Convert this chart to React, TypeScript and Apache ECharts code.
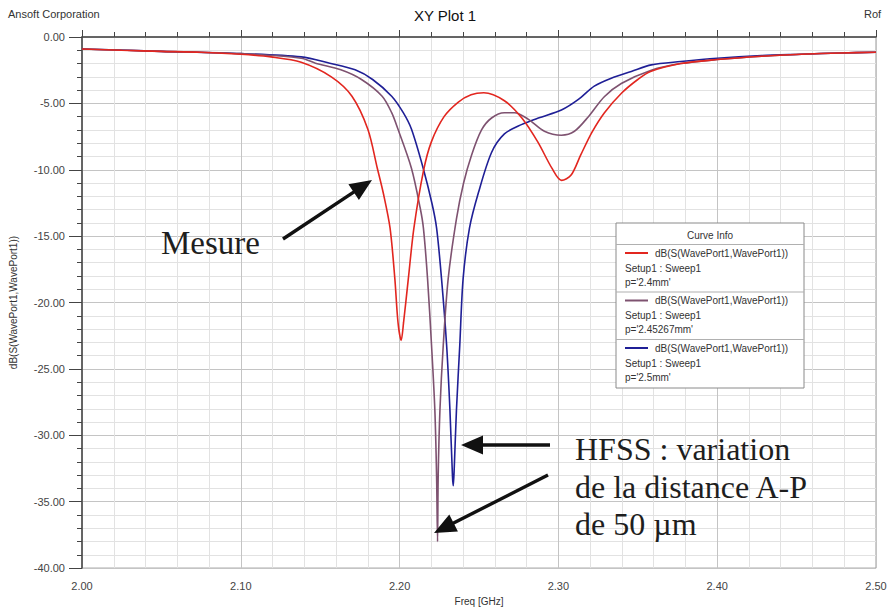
import React, { useEffect, useRef } from "react";
import * as echarts from "echarts";

// ---- data ----
const redFreq = [2.0, 2.025, 2.05, 2.075, 2.1, 2.119, 2.138, 2.157, 2.17, 2.18, 2.186, 2.19, 2.194, 2.197, 2.199, 2.201, 2.2025, 2.2055, 2.209, 2.215, 2.22, 2.228, 2.237, 2.245, 2.253, 2.266, 2.277, 2.287, 2.296, 2.302, 2.308, 2.314, 2.321, 2.329, 2.34, 2.35, 2.358, 2.377, 2.4, 2.428, 2.453, 2.478, 2.5];
const redDb = [-0.9, -1.0, -1.08, -1.15, -1.3, -1.5, -1.9, -3.0, -4.46, -6.95, -9.9, -11.9, -14.4, -18.2, -21.5, -22.85, -21.5, -18.2, -14.4, -10.1, -7.9, -6.0, -4.9, -4.35, -4.2, -4.8, -6.1, -7.9, -9.9, -10.8, -10.4, -8.9, -7.2, -5.7, -4.2, -3.2, -2.6, -2.0, -1.7, -1.45, -1.3, -1.2, -1.15];

const purpleFreq = [2.0, 2.05, 2.1, 2.138, 2.147, 2.163, 2.176, 2.189, 2.195, 2.199, 2.2075, 2.213, 2.215, 2.2176, 2.2201, 2.2222, 2.2233, 2.2239, 2.2243, 2.2254, 2.2275, 2.2306, 2.2358, 2.2403, 2.2453, 2.2516, 2.2579, 2.266, 2.2723, 2.2811, 2.2912, 2.3019, 2.3101, 2.3189, 2.3289, 2.3396, 2.3585, 2.377, 2.4, 2.428, 2.453, 2.478, 2.5];
const purpleDb = [-0.9, -1.08, -1.25, -1.6, -1.97, -2.47, -3.2, -4.46, -5.7, -6.95, -9.9, -12.9, -14.4, -18.2, -23.2, -28.1, -33.1, -38.0, -33.1, -28.1, -23.2, -18.2, -13.7, -11.0, -8.9, -7.0, -6.1, -5.7, -5.7, -6.2, -7.1, -7.4, -7.1, -6.0, -4.5, -3.5, -2.5, -2.0, -1.7, -1.45, -1.3, -1.2, -1.15];

const blueFreq = [2.0, 2.05, 2.1, 2.138, 2.156, 2.172, 2.183, 2.195, 2.2023, 2.2075, 2.2149, 2.2205, 2.2233, 2.2264, 2.2296, 2.2317, 2.2333, 2.2338, 2.2344, 2.2358, 2.2379, 2.24, 2.244, 2.2497, 2.2579, 2.266, 2.2767, 2.2874, 2.3019, 2.3126, 2.3226, 2.3333, 2.3459, 2.3585, 2.377, 2.4, 2.428, 2.453, 2.478, 2.5];
const blueDb = [-0.9, -1.08, -1.25, -1.5, -1.97, -2.47, -3.2, -4.46, -5.7, -6.95, -9.9, -12.6, -14.4, -18.2, -23.2, -28.1, -33.1, -33.8, -32.5, -28.1, -23.2, -18.2, -14.4, -11.7, -8.7, -7.3, -6.6, -6.1, -5.5, -4.7, -3.7, -3.1, -2.6, -2.1, -1.85, -1.6, -1.4, -1.3, -1.2, -1.15];

const seriesNames = ["p='2.4mm'", "p='2.45267mm'", "p='2.5mm'"];
const curveLabel = "dB(S(WavePort1,WavePort1))";
const setupLabel = "Setup1 : Sweep1";
const mesureText = "Mesure";
const hfssLines = ["HFSS : variation", "de la distance A-P", "de 50 µm"];

const COLORS = ["#e2261f", "#7e5270", "#1f1f96"];
const TOP_Z = 100;

function pairs(xs: number[], ys: number[]) {
  return xs.map((x, i) => [x, ys[i]]);
}

// arrow drawn as one filled polygon (shaft + head)
function arrow(x1: number, y1: number, x2: number, y2: number) {
  const dx = x2 - x1;
  const dy = y2 - y1;
  const len = Math.sqrt(dx * dx + dy * dy);
  const ux = dx / len;
  const uy = dy / len;
  const nx = -uy;
  const ny = ux;
  const hl = 22;
  const hw = 9.5;
  const sw = 1.7;
  const bx = x2 - ux * hl;
  const by = y2 - uy * hl;
  return {
    type: "polygon",
    z: TOP_Z,
    shape: {
      points: [
        [x1 + nx * sw, y1 + ny * sw],
        [bx + nx * sw, by + ny * sw],
        [bx + nx * hw, by + ny * hw],
        [x2, y2],
        [bx - nx * hw, by - ny * hw],
        [bx - nx * sw, by - ny * sw],
        [x1 - nx * sw, y1 - ny * sw],
      ],
    },
    style: { fill: "#111", stroke: "none" },
  };
}

const smallFont = "10px 'Liberation Sans', Arial, sans-serif";

function legendBox() {
  const L = 616;
  const T = 223;
  const W = 188;
  const H = 165;
  const children: any[] = [
    { type: "rect", z: TOP_Z, shape: { x: L, y: T, width: W, height: H }, style: { fill: "#fff", stroke: "#8a8a8a", lineWidth: 1 } },
    { type: "text", z: TOP_Z + 1, x: L + W / 2, y: T + 12, style: { text: "Curve Info", fill: "#333", font: smallFont, align: "center", verticalAlign: "middle" } },
    { type: "rect", z: TOP_Z + 1, shape: { x: L, y: T + 21, width: W, height: 1 }, style: { fill: "#b0b0b0" } },
  ];
  const entryH = 47.5;
  for (let i = 0; i < 3; i++) {
    const y0 = T + 21 + i * entryH;
    children.push(
      { type: "rect", z: TOP_Z + 1, shape: { x: L + 9, y: y0 + 8, width: 23, height: 2 }, style: { fill: COLORS[i] } },
      { type: "text", z: TOP_Z + 1, x: L + 39, y: y0 + 9, style: { text: curveLabel, fill: "#333", font: smallFont, verticalAlign: "middle" } },
      { type: "text", z: TOP_Z + 1, x: L + 9, y: y0 + 24, style: { text: setupLabel, fill: "#333", font: smallFont, verticalAlign: "middle" } },
      { type: "text", z: TOP_Z + 1, x: L + 9, y: y0 + 38, style: { text: seriesNames[i], fill: "#333", font: smallFont, verticalAlign: "middle" } }
    );
    if (i < 2) {
      children.push({ type: "rect", z: TOP_Z + 1, shape: { x: L, y: y0 + entryH, width: W, height: 1 }, style: { fill: "#b0b0b0" } });
    }
  }
  return { type: "group", z: TOP_Z, children };
}

export default function App() {
  const ref = useRef<HTMLDivElement>(null);
  useEffect(() => {
    if (!ref.current) return;
    const chart = echarts.init(ref.current, null, { renderer: "svg" });
    const serif = "'Liberation Serif', 'Times New Roman', serif";
    const bigText = (x: number, baseline: number, text: string, size = 32) => ({
      type: "text",
      z: TOP_Z,
      x,
      y: baseline - 25 * (size / 32),
      style: { text, fill: "#1e1e1e", font: `${size}px ${serif}`, verticalAlign: "top" },
    });
    chart.setOption({
      animation: false,
      backgroundColor: "#ffffff",
      title: {
        text: "XY Plot 1",
        left: "center",
        top: 3,
        textStyle: { fontFamily: "'Liberation Sans', Arial", fontSize: 15, fontWeight: "normal", color: "#111" },
      },
      grid: { left: 80, right: 14, top: 37, bottom: 39, show: true, borderColor: "#999", borderWidth: 1 },
      xAxis: {
        type: "value",
        min: 2.0,
        max: 2.5,
        interval: 0.1,
        name: "Freq [GHz]",
        nameLocation: "middle",
        nameGap: 26,
        nameTextStyle: { fontFamily: "'Liberation Sans', Arial", fontSize: 10, color: "#333" },
        axisLine: { lineStyle: { color: "#444", width: 1.5 } },
        axisTick: { show: true, inside: true, length: 7, lineStyle: { color: "#444" } },
        minorTick: { show: true, splitNumber: 5, length: 5, lineStyle: { color: "#444" } },
        axisLabel: { formatter: (v: number) => v.toFixed(2), fontFamily: "'Liberation Sans', Arial", fontSize: 11, color: "#444", margin: 12 },
        splitLine: { show: true, lineStyle: { color: "#c4c4c4", width: 1 } },
        minorSplitLine: { show: true, lineStyle: { color: "#e2e2e2", width: 1 } },
      },
      yAxis: {
        type: "value",
        min: -40,
        max: 0,
        interval: 5,
        name: curveLabel,
        nameLocation: "middle",
        nameGap: 64,
        nameRotate: 90,
        nameTextStyle: { fontFamily: "'Liberation Sans', Arial", fontSize: 10, color: "#333" },
        axisLine: { show: true, lineStyle: { color: "#444", width: 1.5 } },
        axisTick: { show: true, length: 13, lineStyle: { color: "#444" } },
        minorTick: { show: true, splitNumber: 5, length: 5, lineStyle: { color: "#444" } },
        axisLabel: { formatter: (v: number) => v.toFixed(2), fontFamily: "'Liberation Sans', Arial", fontSize: 11, color: "#444", margin: 17 },
        splitLine: { show: true, lineStyle: { color: "#c4c4c4", width: 1 } },
        minorSplitLine: { show: true, lineStyle: { color: "#e2e2e2", width: 1 } },
      },
      series: [
        { name: seriesNames[0], type: "line", data: pairs(redFreq, redDb), showSymbol: false, smooth: 0.3, lineStyle: { color: COLORS[0], width: 1.6 }, z: 3 },
        { name: seriesNames[1], type: "line", data: pairs(purpleFreq, purpleDb), showSymbol: false, smooth: 0.3, lineStyle: { color: COLORS[1], width: 1.6 }, z: 2 },
        { name: seriesNames[2], type: "line", data: pairs(blueFreq, blueDb), showSymbol: false, smooth: 0.3, lineStyle: { color: COLORS[2], width: 1.6 }, z: 1 },
      ],
      graphic: [
        { type: "text", z: TOP_Z, x: 8, y: 8, style: { text: "Ansoft Corporation", fill: "#333", font: "11px 'Liberation Sans', Arial" } },
        { type: "text", z: TOP_Z, x: 864, y: 8, style: { text: "Rof", fill: "#333", font: "11px 'Liberation Sans', Arial" } },
        legendBox(),
        bigText(161, 252, mesureText, 33),
        arrow(283, 239, 372, 180),
        bigText(575, 458, hfssLines[0]),
        bigText(575, 496, hfssLines[1]),
        bigText(575, 533, hfssLines[2]),
        arrow(550, 445, 461, 445),
        arrow(548, 475, 434, 533),
      ],
    });
    return () => chart.dispose();
  }, []);
  return <div ref={ref} style={{ position: "fixed", left: 0, top: 0, width: 890, height: 611 }} />;
}
